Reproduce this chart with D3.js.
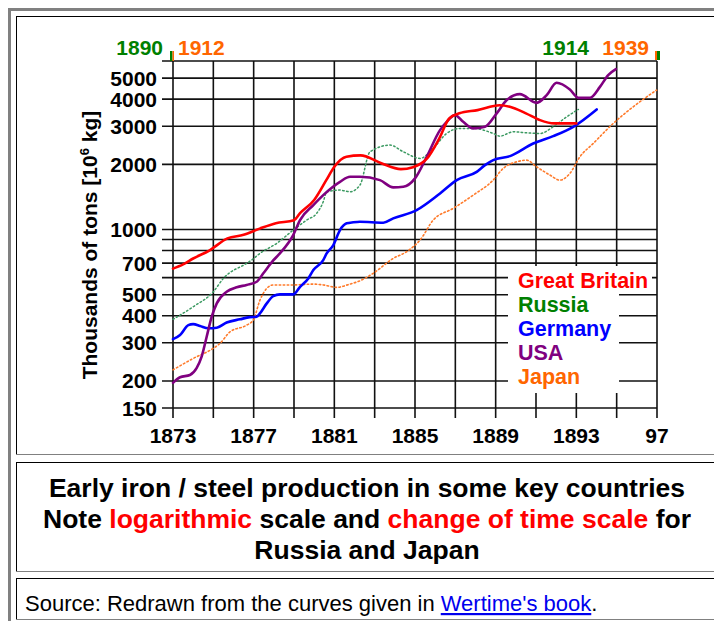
<!DOCTYPE html>
<html>
<head>
<meta charset="utf-8">
<script src="https://cdn.jsdelivr.net/npm/d3@7"></script>
<style>
  body { margin: 0; background: #fff; }
  svg { display: block; }
  text { font-family: "Liberation Sans", Arial, sans-serif; }
</style>
</head>
<body>
<svg id="page" width="714" height="621"></svg>
<script>
// values: [year, thousand tons]
const britain = [
  [1873, 660], [1873.5, 690], [1874, 735], [1874.8, 800], [1875.7, 910], [1876.5, 945],
  [1877.3, 1010], [1878.1, 1070], [1879, 1105], [1879.3, 1190], [1880, 1370], [1880.6, 1690],
  [1881, 1950], [1881.6, 2170], [1882.3, 2200], [1883.3, 2030], [1884.3, 1900], [1884.9, 1940],
  [1885.6, 2130], [1886.2, 2630], [1886.7, 3260], [1887.2, 3440], [1888.1, 3560], [1889.2, 3750],
  [1889.7, 3690], [1890.5, 3440], [1891.2, 3200], [1891.9, 3090], [1893, 3090]
];
const germany = [
  [1873, 312], [1873.35, 326], [1873.76, 362], [1874, 366], [1874.34, 359], [1874.75, 350],
  [1875.17, 352], [1875.66, 372], [1876.32, 385], [1876.81, 394], [1877.15, 396], [1877.31, 410],
  [1877.65, 456], [1877.97, 493], [1878.3, 502], [1878.96, 502], [1879.3, 544], [1879.71, 595],
  [1879.96, 650], [1880.45, 723], [1880.62, 776], [1880.95, 848], [1881.28, 994], [1881.61, 1068],
  [1881.94, 1080], [1882.27, 1086], [1883.43, 1075], [1883.92, 1126], [1885.08, 1230], [1886.24, 1468],
  [1887.07, 1691], [1888.06, 1847], [1888.47, 1983], [1888.88, 2091], [1889.71, 2183], [1890.86, 2496],
  [1891.85, 2699], [1892.85, 2981], [1894.01, 3586]
];
const usa = [
  [1873, 196], [1873.35, 208], [1873.84, 213], [1874.17, 229], [1874.42, 259], [1874.67, 320],
  [1874.92, 396], [1875.17, 456], [1875.66, 516], [1876.16, 541], [1876.65, 555], [1877.15, 574],
  [1877.48, 628], [1877.97, 720], [1878.3, 776], [1878.96, 943], [1879.3, 1106], [1879.96, 1297],
  [1880.45, 1442], [1881.28, 1661], [1881.78, 1752], [1882.27, 1752], [1883.26, 1691], [1883.92, 1565],
  [1884.42, 1575], [1885, 1722], [1885.58, 2167], [1886.24, 2877], [1886.57, 3143], [1886.98, 3376],
  [1887.39, 3143], [1887.89, 2931], [1888.47, 2981], [1889.05, 3437], [1889.55, 3960], [1890.2, 4219],
  [1891.03, 3845], [1891.53, 4175], [1892.02, 4760], [1892.68, 4430], [1893.1, 4054], [1893.67, 4054],
  [1894.17, 4556], [1894.58, 5160], [1894.96, 5500]
];
// Russia runs on its own time scale 1890..1914
const russia = [
  [1890, 385], [1891, 440], [1892, 516], [1892.5, 595], [1893.65, 698], [1893.9, 723],
  [1894.31, 776], [1895.14, 863], [1895.96, 994], [1896.63, 1106], [1897.12, 1187], [1897.45, 1343],
  [1897.62, 1494], [1898.28, 1521], [1898.78, 1494], [1899.27, 1604], [1899.77, 2286], [1900.76, 2454],
  [1901.42, 2286], [1902.25, 2130], [1902.9, 2369], [1903.57, 2777], [1904.23, 2931], [1904.89, 2931],
  [1905.88, 2777], [1906.21, 2699], [1906.87, 2826], [1907.54, 2795], [1908.2, 2777], [1908.85, 2981],
  [1909.52, 3315], [1910.1, 3586]
];
// Japan runs on its own time scale 1912..1939
const japan = [
  [1912, 225], [1913.13, 254], [1914.25, 283], [1914.62, 298], [1915.18, 337], [1916.11, 362],
  [1916.48, 382], [1916.85, 472], [1917.23, 535], [1917.59, 555], [1918.71, 555], [1919.83, 560],
  [1920.38, 555], [1921.13, 541], [1921.87, 560], [1922.43, 580], [1923.17, 628], [1924.29, 736],
  [1925.03, 790], [1925.78, 894], [1926.52, 1106], [1927.63, 1252], [1928.75, 1442], [1929.86, 1691],
  [1930.42, 1915], [1931.17, 2055], [1931.73, 2091], [1932.28, 1949], [1933.03, 1784], [1933.58, 1691],
  [1934.14, 1816], [1934.7, 2167], [1935.44, 2496], [1936.56, 3090], [1937.67, 3687], [1938.98, 4404]
];

const gridYears = [1873, 1875, 1877, 1879, 1881, 1883, 1885, 1887, 1889, 1891, 1893, 1895, 1897];
const xTickYears = [1873, 1877, 1881, 1885, 1889, 1893, 1897];
const xTickLabels = ['1873', '1877', '1881', '1885', '1889', '1893', '97'];
const gridValues = [150, 200, 300, 400, 500, 600, 700, 800, 900, 1000, 2000, 3000, 4000, 5000, 6000];
const yTickValues = [150, 200, 300, 400, 500, 700, 1000, 2000, 3000, 4000, 5000];
const legendNames = ['Great Britain', 'Russia', 'Germany', 'USA', 'Japan'];
const legendColors = ['#ff0000', '#008000', '#0000ff', '#800080', '#ff6600'];

const svg = d3.select('#page');

// table frame
svg.append('rect').attr('x', 9.5).attr('y', 9.5).attr('width', 720).attr('height', 630)
  .attr('fill', 'none').attr('stroke', '#808080').attr('stroke-width', 3);
const cells = [[16, 16, 455], [16, 462, 572], [16, 578, 620]];
cells.forEach(([cx, cTop, cBottom]) => {
  svg.append('line').attr('x1', cx).attr('x2', 714).attr('y1', cTop + 0.5).attr('y2', cTop + 0.5).attr('stroke', '#000');
  svg.append('line').attr('x1', cx + 0.5).attr('x2', cx + 0.5).attr('y1', cTop).attr('y2', cBottom).attr('stroke', '#000');
  svg.append('line').attr('x1', cx).attr('x2', 714).attr('y1', cBottom - 0.5).attr('y2', cBottom - 0.5).attr('stroke', '#808080');
});

// scales
const plotLeft = 173, plotRight = 657, plotTop = 61, plotBottom = 408;
const x = d3.scaleLinear().domain([1873, 1897]).range([plotLeft, plotRight]);
const xRussia = d3.scaleLinear().domain([1890, 1914]).range([plotLeft, plotRight]);
const xJapan = d3.scaleLinear().domain([1912, 1939]).range([plotLeft, plotRight]);
const y = d3.scaleLog().domain([150, 6000]).range([plotBottom, plotTop]);

// grid
const grid = svg.append('g').attr('stroke', '#111').attr('stroke-width', 1.6);
grid.selectAll('.h').data(gridValues).enter().append('line')
  .attr('x1', 162).attr('x2', plotRight)
  .attr('y1', d => y(d)).attr('y2', d => y(d));
grid.selectAll('.v').data(gridYears).enter().append('line')
  .attr('x1', d => x(d)).attr('x2', d => x(d))
  .attr('y1', plotTop).attr('y2', 418);

// legend box hides grid
svg.append('rect').attr('x', 508).attr('y', 266).attr('width', 144).attr('height', 26).attr('fill', '#fff');
svg.append('rect').attr('x', 508).attr('y', 266).attr('width', 111).attr('height', 127).attr('fill', '#fff');

// curves
const line = (xs) => d3.line().x(d => xs(d[0])).y(d => y(d[1])).curve(d3.curveMonotoneX);
const plot = svg.append('g').attr('fill', 'none').attr('stroke-linejoin', 'round').attr('stroke-linecap', 'round');
plot.append('path').datum(russia).attr('d', line(xRussia))
  .attr('stroke', '#3c9a62').attr('stroke-width', 1.5).attr('stroke-dasharray', '1.5,2.5');
plot.append('path').datum(japan).attr('d', line(xJapan))
  .attr('stroke', '#ff7a2a').attr('stroke-width', 1.6).attr('stroke-dasharray', '1.5,2.5');
plot.append('path').datum(germany).attr('d', line(x)).attr('stroke', '#0000ff').attr('stroke-width', 2.6);
plot.append('path').datum(usa).attr('d', line(x)).attr('stroke', '#800080').attr('stroke-width', 2.6);
plot.append('path').datum(britain).attr('d', line(x)).attr('stroke', '#ff0000').attr('stroke-width', 2.6);

// axis labels
const bold = (sel, size) => sel.attr('font-weight', 'bold').attr('font-size', size);
svg.selectAll('.yt').data(yTickValues).enter().append('text')
  .attr('x', 157).attr('y', d => y(d)).attr('dy', '0.36em').attr('text-anchor', 'end')
  .text(d => d).call(bold, '21px');
svg.selectAll('.xt').data(xTickYears).enter().append('text')
  .attr('x', d => x(d)).attr('y', 443).attr('text-anchor', 'middle')
  .text((d, i) => xTickLabels[i]).call(bold, '21px');

const title = svg.append('text').attr('transform', 'translate(97,245) rotate(-90)')
  .attr('text-anchor', 'middle').call(bold, '21px');
title.append('tspan').text('Thousands of tons [10');
title.append('tspan').attr('font-size', '13px').attr('dy', '-8').text('6');
title.append('tspan').attr('dy', '8').text(' kg]');

// time scale markers at the top
svg.append('text').attr('x', 163).attr('y', 55).attr('text-anchor', 'end').attr('fill', '#008000').text('1890').call(bold, '21px');
svg.append('text').attr('x', 178).attr('y', 55).attr('fill', '#ff6600').text('1912').call(bold, '21px');
svg.append('text').attr('x', 589).attr('y', 55).attr('text-anchor', 'end').attr('fill', '#008000').text('1914').call(bold, '21px');
svg.append('text').attr('x', 649).attr('y', 55).attr('text-anchor', 'end').attr('fill', '#ff6600').text('1939').call(bold, '21px');
svg.append('rect').attr('x', x(1873) - 3).attr('y', 51).attr('width', 2.5).attr('height', 10).attr('fill', '#008000');
svg.append('rect').attr('x', x(1873) - 0.5).attr('y', 51).attr('width', 1.5).attr('height', 10).attr('fill', '#ff6600');
svg.append('rect').attr('x', x(1897) - 2).attr('y', 51).attr('width', 2).attr('height', 9).attr('fill', '#ff6600');
svg.append('rect').attr('x', x(1897)).attr('y', 51).attr('width', 3).attr('height', 9).attr('fill', '#008000');

// legend
svg.selectAll('.lg').data(legendNames).enter().append('text')
  .attr('x', 518).attr('y', (d, i) => 288 + i * 24)
  .attr('fill', (d, i) => legendColors[i])
  .text(d => d).call(bold, '21.5px');

// caption
const cap = svg.append('text').attr('text-anchor', 'middle').call(bold, '26.5px');
cap.append('tspan').attr('x', 367).attr('y', 497).text('Early iron / steel production in some key countries');
const l2 = cap.append('tspan').attr('x', 367).attr('y', 528);
l2.append('tspan').text('Note ');
l2.append('tspan').attr('fill', '#ff0000').text('logarithmic');
l2.append('tspan').text(' scale and ');
l2.append('tspan').attr('fill', '#ff0000').text('change of time scale');
l2.append('tspan').text(' for');
cap.append('tspan').attr('x', 367).attr('y', 559).text('Russia and Japan');

const src = svg.append('text').attr('x', 25).attr('y', 611).attr('font-size', '22px');
src.append('tspan').text('Source: Redrawn from the curves given in ');
src.append('a').attr('href', '#')
  .append('tspan').attr('fill', '#0000ee').attr('text-decoration', 'underline').text("Wertime's book");
src.append('tspan').text('.');
</script>
</body>
</html>
